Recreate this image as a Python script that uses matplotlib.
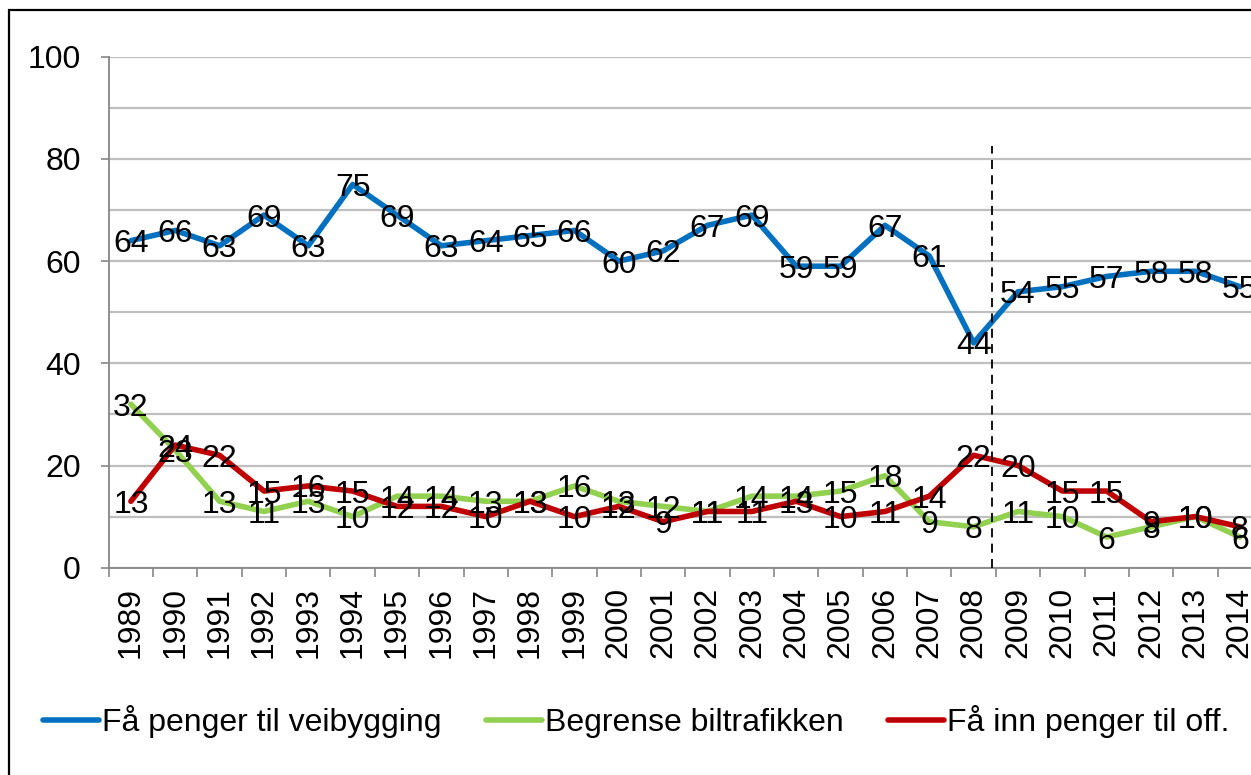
import matplotlib
matplotlib.use("Agg")
import matplotlib.pyplot as plt
from matplotlib.lines import Line2D
from matplotlib.patches import Rectangle
from matplotlib.ticker import MultipleLocator, FixedLocator

plt.rcParams['font.family'] = ['Liberation Sans', 'DejaVu Sans']

years = [str(y) for y in range(1989, 2015)]
veibygging = [64, 66, 63, 69, 63, 75, 69, 63, 64, 65, 66, 60, 62, 67, 69, 59, 59, 67, 61, 44, 54, 55, 57, 58, 58, 55]
biltrafikk = [32, 23, 13, 11, 13, 10, 14, 14, 13, 13, 16, 13, 12, 11, 14, 14, 15, 18, 9, 8, 11, 10, 6, 8, 10, 6]
kollektiv = [13, 24, 22, 15, 16, 15, 12, 12, 10, 13, 10, 12, 9, 11, 11, 13, 10, 11, 14, 22, 20, 15, 15, 9, 10, 8]
series_names = ["Få penger til veibygging", "Begrense biltrafikken", "Få inn penger til off."]
colors = ["#0070C0", "#92D050", "#C00000"]

W, H = 1251, 775
fig = plt.figure(figsize=(W / 100, H / 100), dpi=100)
ax = fig.add_axes([108.7 / W, 1 - 567.7 / H, (1262 - 108.7) / W, (567.7 - 56.7) / H])

x = list(range(len(years)))
all_series = [veibygging, biltrafikk, kollektiv]
for vals, col in zip(all_series, colors):
    ax.plot(x, vals, color=col, lw=4.0, solid_joinstyle='round', solid_capstyle='round', zorder=3)

fs = 23
for vals in all_series:
    for xi, v in zip(x, vals):
        ax.text(xi, v, str(v), ha='center', va='center_baseline', fontsize=fs, color='black', zorder=5)

ax.set_xlim(-0.5, len(years) - 0.5)
ax.set_ylim(0, 100)

ax.yaxis.set_major_locator(MultipleLocator(20))
ax.yaxis.set_minor_locator(MultipleLocator(10))
ax.grid(axis='y', which='both', color='#BFBFBF', lw=1.6, zorder=0)
ax.set_axisbelow(True)

ax.xaxis.set_major_locator(FixedLocator(x))
ax.set_xticklabels(years, rotation=90, fontsize=fs)
ax.xaxis.set_minor_locator(FixedLocator([i - 0.5 for i in range(len(years) + 1)]))
ax.tick_params(axis='x', which='major', length=0, pad=14)
ax.tick_params(axis='x', which='minor', length=6.5, width=1.2, color='#868686')
ax.tick_params(axis='y', which='major', length=6, width=1.2, color='#868686', labelsize=fs, pad=14)
ax.tick_params(axis='y', which='minor', length=0)

for s in ['top', 'right']:
    ax.spines[s].set_visible(False)
for s in ['left', 'bottom']:
    ax.spines[s].set_color('#868686')
    ax.spines[s].set_linewidth(1.3)

# dashed separator between 2008 and 2009
ax.plot([19.41, 19.41], [0, 82.5], color='black', lw=1.3, ls=(0, (5, 3.5)), zorder=4)

handles = [Line2D([0], [0], color=c, lw=4.0, solid_capstyle='round') for c in colors]
fig.legend(handles, series_names, loc='center left', bbox_to_anchor=(43 / W, 1 - 721.7 / H),
           ncol=3, frameon=False, fontsize=fs, handlelength=1.75, handletextpad=0.1,
           columnspacing=1.38, borderpad=0, borderaxespad=0)

fig.patches.append(Rectangle((9 / W, -0.2), 1.5, 1.2 - 10 / H, transform=fig.transFigure,
                             fill=False, edgecolor='black', lw=1.6))

fig.savefig("out.png", dpi=100)
